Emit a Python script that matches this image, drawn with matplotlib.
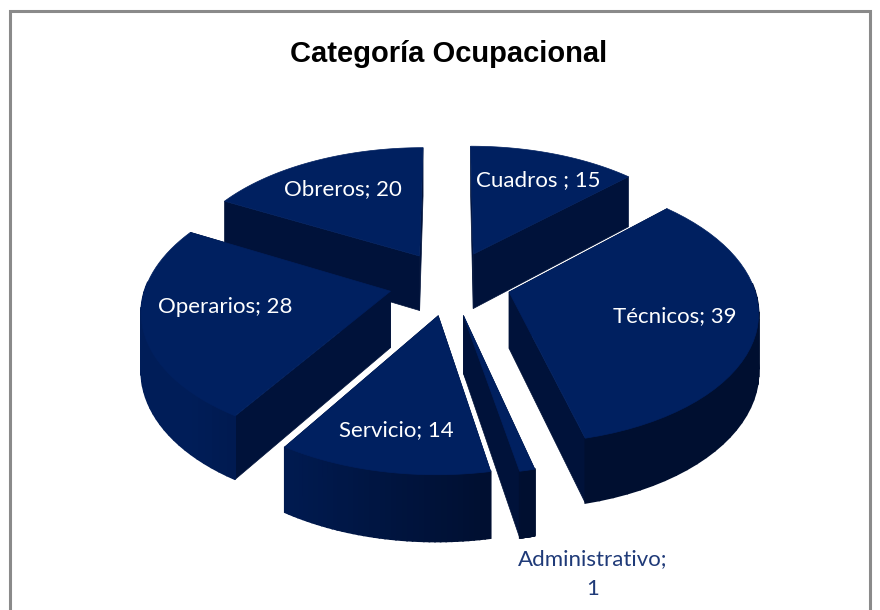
import numpy as np
import matplotlib
matplotlib.use("Agg")
import matplotlib.pyplot as plt
from matplotlib.colors import to_rgb

# Datos
categorias = ["Cuadros ", "Técnicos", "Administrativo", "Servicio", "Operarios", "Obreros"]
valores = [15, 39, 1, 14, 28, 20]

# Geometria de la torta, en pixeles
cx, cy = 450, 283
R, H = 244, 129
k = 0.13        # perspectiva
explota = 0.25
alto = 56

color_top = "#002060"
color_cara = "#00123a"
color_claro = "#001d58"
color_oscuro = "#000f30"

def proyecta(X, Y, z=0.0):
    # plano de la torta a pixeles
    s = 1 / (1 + k * Y)
    return cx + R * X * s, cy - H * Y * s + alto * z * s

def mezcla(t):
    a, b = np.array(to_rgb(color_claro)), np.array(to_rgb(color_oscuro))
    return tuple(a + (b - a) * t)

fig = plt.figure(figsize=(8.8, 6.1), dpi=100)
ax = fig.add_axes([0, 0, 1, 1])
ax.set_xlim(0, 880)
ax.set_ylim(610, 0)
ax.axis("off")

# Marco gris, abierto abajo
ax.plot([10, 10, 870, 870], [610, 11, 11, 610], color="#8a8a8a", lw=2.2, solid_joinstyle="miter")

# Angulos de cada porcion, en sentido horario desde arriba
fin = np.cumsum(valores) / np.sum(valores) * 2 * np.pi
ini = np.r_[0, fin[:-1]]
medio = (ini + fin) / 2

# Primero las del fondo
orden = list(np.argsort(-np.cos(medio)))
for i in orden:
    z = 2 + 3 * orden.index(i)
    a = np.linspace(ini[i], fin[i], 40)
    ox, oy = explota * np.sin(medio[i]), explota * np.cos(medio[i])
    bx, by = ox + np.sin(a), oy + np.cos(a)

    # caras radiales
    for j in (0, -1):
        xs, ys = zip(*[proyecta(ox, oy), proyecta(bx[j], by[j]),
                       proyecta(bx[j], by[j], 1), proyecta(ox, oy, 1)])
        ax.fill(xs, ys, color=color_cara, lw=0.5, zorder=z)

    # borde curvo con degradado, solo lo que mira al frente
    for j in range(len(a) - 1):
        if np.cos(a[j]) > 0.05 and np.cos(a[j + 1]) > 0.05:
            continue
        xs, ys = zip(*[proyecta(bx[j], by[j]), proyecta(bx[j + 1], by[j + 1]),
                       proyecta(bx[j + 1], by[j + 1], 1), proyecta(bx[j], by[j], 1)])
        t = np.clip((np.sin(a[j]) + 0.7) / 0.9, 0, 1)
        ax.fill(xs, ys, color=mezcla(t), lw=1.2, zorder=z + 1)

    # cara superior
    xs, ys = proyecta(np.r_[ox, bx], np.r_[oy, by])
    ax.fill(xs, ys, color=color_top, lw=0.5, zorder=z + 2)

# Textos
ax.text(449, 54, "Categoría Ocupacional", ha="center", va="center", fontsize=21,
        fontweight="bold", family="Liberation Sans", color="black", zorder=50)

pos_etiquetas = [(538, 180), (675, 316), (593, 574), (396, 430), (225, 307), (343, 189)]
for i, (nombre, v) in enumerate(zip(categorias, valores)):
    texto = f"{nombre}; {v}"
    col = "white"
    if v == 1:
        texto = f"{nombre};\n{v}"
        col = "#1f3a78"
    ax.text(pos_etiquetas[i][0], pos_etiquetas[i][1], texto, ha="center", va="center",
            fontsize=16, family="Lato", color=col, zorder=50, linespacing=1.6)

fig.savefig("out.png", dpi=100)
